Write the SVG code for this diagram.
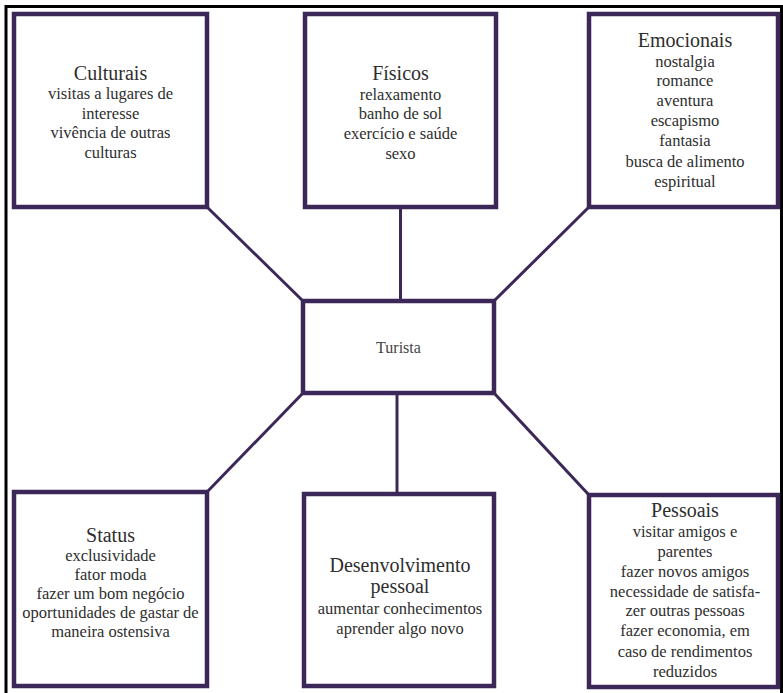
<svg xmlns="http://www.w3.org/2000/svg" width="783" height="693" viewBox="0 0 783 693">
<style>
.box{fill:#ffffff;stroke:#3c2858;stroke-width:4.5}
.con{stroke:#3c2858;stroke-width:3;fill:none}
.frame{stroke:#000000;stroke-width:3;fill:none}
.lbl{font-family:'Liberation Serif','Times New Roman',Times,'DejaVu Serif',serif;fill:#2e2e2e;text-anchor:middle}
.h{font-size:20px}
.b{font-size:16.5px}
.t{font-size:16px;fill:#444444}
</style>
<rect width="783" height="693" fill="#ffffff"/>
<path class="frame" d="M6,700 L6,6.5 L781.5,6.5 L781.5,700"/>
<g id="connectors">
<line class="con" x1="207" y1="207" x2="303" y2="301"/>
<line class="con" x1="400.5" y1="207" x2="400.5" y2="301"/>
<line class="con" x1="589" y1="207" x2="494" y2="301"/>
<line class="con" x1="303" y1="393" x2="207" y2="492"/>
<line class="con" x1="397" y1="393" x2="397" y2="494"/>
<line class="con" x1="494" y1="393" x2="589" y2="495"/>
</g>
<g id="culturais" class="lbl">
<rect class="box" x="14" y="14" width="193" height="193"/>
<text class="h" x="110.5" y="80">Culturais</text>
<text class="b" x="110.5" y="99">visitas a lugares de</text>
<text class="b" x="110.5" y="118.5">interesse</text>
<text class="b" x="110.5" y="138">vivência de outras</text>
<text class="b" x="110.5" y="157.5">culturas</text>
</g>
<g id="fisicos" class="lbl">
<rect class="box" x="305" y="14" width="191" height="193"/>
<text class="h" x="400.5" y="80">Físicos</text>
<text class="b" x="400.5" y="99.5">relaxamento</text>
<text class="b" x="400.5" y="119">banho de sol</text>
<text class="b" x="400.5" y="139">exercício e saúde</text>
<text class="b" x="400.5" y="159">sexo</text>
</g>
<g id="emocionais" class="lbl">
<rect class="box" x="589" y="14" width="189" height="193"/>
<text class="h" x="685" y="46.5">Emocionais</text>
<text class="b" x="685" y="66.5">nostalgia</text>
<text class="b" x="685" y="86">romance</text>
<text class="b" x="685" y="106">aventura</text>
<text class="b" x="685" y="126">escapismo</text>
<text class="b" x="685" y="146">fantasia</text>
<text class="b" x="685" y="166.5">busca de alimento</text>
<text class="b" x="685" y="186.5">espiritual</text>
</g>
<g id="turista" class="lbl">
<rect class="box" x="303" y="301" width="191" height="92"/>
<text class="t" x="398.5" y="353">Turista</text>
</g>
<g id="status" class="lbl">
<rect class="box" x="14" y="492" width="193" height="194"/>
<text class="h" x="110.5" y="542">Status</text>
<text class="b" x="110.5" y="561">exclusividade</text>
<text class="b" x="110.5" y="580">fator moda</text>
<text class="b" x="110.5" y="599">fazer um bom negócio</text>
<text class="b" x="110.5" y="618">oportunidades de gastar de</text>
<text class="b" x="110.5" y="637">maneira ostensiva</text>
</g>
<g id="desenvolvimento" class="lbl">
<rect class="box" x="304" y="494" width="190" height="192"/>
<text class="h" x="400" y="572">Desenvolvimento</text>
<text class="h" x="400" y="593">pessoal</text>
<text class="b" x="400" y="614">aumentar conhecimentos</text>
<text class="b" x="400" y="634">aprender algo novo</text>
</g>
<g id="pessoais" class="lbl">
<rect class="box" x="589" y="495" width="189" height="192"/>
<text class="h" x="685" y="517">Pessoais</text>
<text class="b" x="685" y="537">visitar amigos e</text>
<text class="b" x="685" y="557">parentes</text>
<text class="b" x="685" y="577">fazer novos amigos</text>
<text class="b" x="685" y="597">necessidade de satisfa-</text>
<text class="b" x="685" y="616">zer outras pessoas</text>
<text class="b" x="685" y="636">fazer economia, em</text>
<text class="b" x="685" y="656.5">caso de rendimentos</text>
<text class="b" x="685" y="676.5">reduzidos</text>
</g>
</svg>
